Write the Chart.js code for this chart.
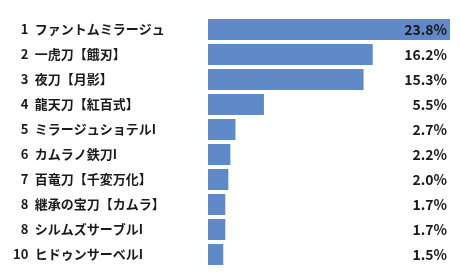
<!DOCTYPE html>
<html>
<head>
<meta charset="utf-8">
<script src="https://cdn.jsdelivr.net/npm/chart.js@4"></script>
<style>
  body { margin: 0; background: #fff; }
  #wrap { width: 460px; height: 280px; }
</style>
</head>
<body>
<div id="wrap"><canvas id="ranking"></canvas></div>
<script>
var ranks = ['1', '2', '3', '4', '5', '6', '7', '8', '8', '10'];
var names = ['ファントムミラージュ', '一虎刀【餓刃】', '夜刀【月影】', '龍天刀【紅百式】', 'ミラージュショテルI',
             'カムラノ鉄刀I', '百竜刀【千変万化】', '継承の宝刀【カムラ】', 'シルムズサーブルI', 'ヒドゥンサーベルI'];
var shares = [23.8, 16.2, 15.3, 5.5, 2.7, 2.2, 2.0, 1.7, 1.7, 1.5];

var fontFamily = '"Noto Sans CJK JP", "Noto Sans", sans-serif';

// percentage labels at the right edge of the plot
var valueLabels = {
    id: 'valueLabels',
    afterDatasetsDraw: function (chart) {
        var ctx = chart.ctx;
        var meta = chart.getDatasetMeta(0);
        ctx.save();
        ctx.font = 'bold 14px ' + fontFamily;
        ctx.fillStyle = '#1a1a1a';
        ctx.textAlign = 'right';
        ctx.textBaseline = 'middle';
        meta.data.forEach(function (bar, i) {
            ctx.fillText(shares[i].toFixed(1) + '%', chart.chartArea.right - 3, bar.y);
        });
        ctx.restore();
    }
};

var ctx = document.getElementById('ranking').getContext('2d');
var myChart = new Chart(ctx, {
    type: 'bar',
    data: {
        labels: names,
        datasets: [{
            data: shares,
            backgroundColor: '#5f8ac7',
            barPercentage: 0.84,
            categoryPercentage: 1.0
        }]
    },
    options: {
        indexAxis: 'y',
        responsive: true,
        maintainAspectRatio: false,
        animation: false,
        layout: { padding: { left: 13, right: 10, top: 17, bottom: 13 } },
        scales: {
            x: { display: false, min: 0, max: 23.8 },
            y: {
                grid: { display: false },
                border: { display: false },
                afterFit: function (scale) { scale.width = 195; },
                ticks: {
                    crossAlign: 'far',
                    padding: 0,
                    color: '#1a1a1a',
                    font: { family: fontFamily, size: 13, weight: 'bold' },
                    callback: function (value, index) {
                        var r = ranks[index];
                        if (r.length < 2) r = '\u2007' + r;
                        return r + '\u2002' + names[index];
                    }
                }
            }
        },
        plugins: {
            legend: { display: false },
            tooltip: { enabled: false }
        }
    },
    plugins: [valueLabels]
});
</script>
</body>
</html>
